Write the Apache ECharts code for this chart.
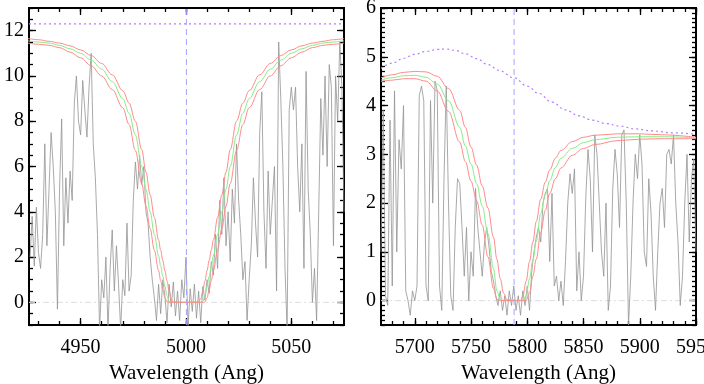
<!DOCTYPE html>
<html><head><meta charset="utf-8">
<script src="https://cdn.jsdelivr.net/npm/echarts@6/dist/echarts.min.js"></script>
<style>html,body{margin:0;padding:0;background:#fff}#c{width:704px;height:384px}</style>
</head><body><div id="c"></div>
<script>
// ---------- Left panel data ----------
const leftWave = [4926,4927,4928,4929,4930,4931,4932,4933,4934,4935,4936,4937,4938,4939,4940,4941,4942,4943,4944,4945,4946,4947,4948,4949,4950,4951,4952,4953,4954,4955,4956,4957,4958,4959,4960,4961,4962,4963,4964,4965,4966,4967,4968,4969,4970,4971,4972,4973,4974,4975,4976,4977,4978,4979,4980,4981,4982,4983,4984,4985,4986,4987,4988,4989,4990,4991,4992,4993,4994,4995,4996,4997,4998,4999,5000,5001,5002,5003,5004,5005,5006,5007,5008,5009,5010,5011,5012,5013,5014,5015,5016,5017,5018,5019,5020,5021,5022,5023,5024,5025,5026,5027,5028,5029,5030,5031,5032,5033,5034,5035,5036,5037,5038,5039,5040,5041,5042,5043,5044,5045,5046,5047,5048,5049,5050,5051,5052,5053,5054,5055,5056,5057,5058,5059,5060,5061,5062,5063,5064,5065,5066,5067,5068,5069,5070,5071,5072,5073,5074,5075];
const leftFlux = [2.0,3.8,1.6,4.2,2.2,1.5,3.0,7.0,2.5,5.0,
  7.5,6.0,4.0,-0.3,5.0,8.1,2.5,5.5,3.5,5.8,
  4.5,8.8,10.0,8.0,7.4,9.8,8.5,7.3,9.5,11.0,
  7.0,5.5,3.0,-1.2,1.0,0.2,2.0,-1.2,1.5,3.2,
  0.5,2.5,0.8,-1.2,1.0,0.3,3.5,0.5,1.2,4.5,
  6.2,5.0,6.5,5.2,6.0,4.0,3.5,2.0,1.0,0.2,
  -0.8,0.8,-0.5,1.0,0.3,-0.9,0.8,-0.2,0.9,-0.6,
  0.5,-0.8,1.0,0.2,2.0,-1.1,0.6,-0.4,0.8,-0.7,
  0.5,-0.9,0.7,0.1,1.0,0.4,1.8,1.2,3.0,1.5,
  4.5,3.0,5.5,2.5,4.0,1.8,5.0,3.5,
  7.0,4.5,3.0,1.0,1.8,-0.8,1.0,2.5,5.5,3.5,
  2.0,7.5,9.3,4.0,1.5,5.8,3.0,4.5,6.0,0.5,
  11.5,9.0,6.0,1.5,-1.2,8.5,9.5,8.5,9.5,6.0,
  4.0,7.0,1.5,10.2,5.0,3.0,0.0,1.5,-0.8,4.0,
  9.0,6.5,10.0,6.0,10.5,9.5,2.5,10.0,8.0,11.5,
  9.5,4.0];
const leftModelWave = [4925,4930,4935,4940,4945,4950,4955,4960,4965,4970,4973,4976,4979,4981,4983,4985,4987,4988,4989,4990,4991,4992,4993,4994,5000,5006,5007,5008,5009,5010,5011,5012,5013,5015,5017,5019,5021,5024,5027,5030,5035,5040,5045,5050,5055,5060,5065,5070,5075];
const leftModelMid = [11.55,11.5,11.45,11.35,11.2,11.0,10.7,10.3,9.75,9.0,8.35,7.4,6.0,5.0,4.0,3.0,2.05,1.6,1.15,0.7,0.3,0.05,0,0,
  0,
  0,0,0.05,0.3,0.7,1.15,1.6,2.05,3.0,4.0,5.0,6.0,7.4,8.35,9.0,9.75,10.3,10.7,11.0,11.2,11.35,11.45,11.5,11.55];
const leftModelHigh = [11.65,11.6,11.53,11.45,11.33,11.15,10.9,10.55,10.05,9.35,8.8,8.0,6.75,5.75,4.75,3.75,2.75,2.3,1.85,1.4,0.95,0.5,0.15,0.02,
  0,
  0.02,0.15,0.5,0.95,1.4,1.85,2.3,2.75,3.75,4.75,5.75,6.75,8.0,8.8,9.35,10.05,10.55,10.9,11.15,11.33,11.45,11.53,11.6,11.65];
const leftModelLow = [11.45,11.4,11.35,11.25,11.05,10.8,10.45,10.0,9.4,8.6,7.85,6.7,5.25,4.25,3.25,2.3,1.4,0.95,0.55,0.2,0.02,0,0,0,
  0,
  0,0,0,0.02,0.2,0.55,0.95,1.4,2.3,3.25,4.25,5.25,6.7,7.85,8.6,9.4,10.0,10.45,10.8,11.05,11.25,11.35,11.4,11.45];
const leftContinuumLevel = 12.3;
const leftLineCenter = 5000.2;
const leftXRange = [4925.5, 5075];
const leftYRange = [-1, 13];
const leftXMajor = [4950, 5000, 5050];
const leftXMinor = [4930,4940,4950,4960,4970,4980,4990,5000,5010,5020,5030,5040,5050,5060,5070];
const leftYMajor = [0, 2, 4, 6, 8, 10, 12];
const leftYMinor = [-1,-0.5,0,0.5,1,1.5,2,2.5,3,3.5,4,4.5,5,5.5,6,6.5,7,7.5,8,8.5,9,9.5,10,10.5,11,11.5,12,12.5,13];

// ---------- Right panel data ----------
const rightWave = [5670,5672,5674,5676,5678,5680,5682,5684,5686,5688,5690,5692,5694,5696,5698,5700,5702,5704,5706,5708,5710,5712,5714,5716,5718,5720,5722,5724,5726,5728,5730,5732,5734,5736,5738,5740,5742,5744,5746,5748,5750,5752,5754,5756,5758,5760,5762,5764,5766,5768,5770,5772,5774,5776,5778,5780,5782,5784,5786,5788,5790,5792,5794,5796,5798,5800,5802,5804,5806,5808,5810,5812,5814,5816,5818,5820,5822,5824,5826,5828,5830,5832,5834,5836,5838,5840,5842,5844,5846,5848,5850,5852,5854,5856,5858,5860,5862,5864,5866,5868,5870,5872,5874,5876,5878,5880,5882,5884,5886,5888,5890,5892,5894,5896,5898,5900,5902,5904,5906,5908,5910,5912,5914,5916,5918,5920,5922,5924,5926,5928,5930,5932,5934,5936,5938,5940,5942,5944,5946,5948,5950];
const rightFlux = [1.0,3.9,0.1,-0.1,3.7,0.3,4.3,1.0,3.3,2.7,
  4.0,0.2,0.0,-0.3,0.2,0.0,0.3,4.2,4.4,4.1,
  0.3,0.0,4.1,2.0,4.5,4.3,0.3,-0.2,2.5,4.4,
  2.0,0.1,-0.2,1.5,2.5,2.4,1.5,0.5,1.5,0.0,
  1.0,0.5,2.3,1.5,1.0,0.5,1.2,1.5,1.1,0.6,
  0.4,0.1,-0.1,0.2,-0.2,0.1,-0.3,0.2,-0.1,0.3,
  -0.2,0.1,-0.3,0.2,-0.1,0.3,-0.2,0.6,1.0,1.3,
  1.5,1.2,2.0,2.2,2.3,0.8,2.2,0.3,0.5,0.0,
  0.4,-0.1,0.8,2.0,2.6,2.2,2.7,0.2,1.0,0.0,
  0.5,2.1,3.1,2.5,1.0,3.4,3.0,2.0,1.0,0.5,
  2.0,-0.2,0.3,2.3,3.1,2.6,1.5,3.4,3.5,2.0,
  -0.5,0.5,2.0,3.0,2.5,3.4,2.8,1.0,0.7,2.5,
  1.8,0.5,-0.2,1.0,2.0,2.3,1.5,3.0,3.1,2.8,
  3.4,2.0,1.2,-0.1,0.5,2.0,3.0,1.2,2.5,2.9,
  1.0];
const rightModelWave = [5670,5680,5690,5700,5710,5720,5730,5740,5745,5750,5755,5760,5765,5770,5773,5776,5779,5782,5790,5794,5796,5799,5802,5805,5808,5812,5816,5820,5825,5830,5840,5850,5860,5880,5900,5920,5950];
const rightModelMid = [4.52,4.57,4.61,4.62,4.58,4.44,4.1,3.55,3.17,2.8,2.4,1.94,1.38,0.65,0.2,0.03,0,0,0,0,0,0.1,0.45,0.83,1.22,1.79,2.17,2.46,2.73,2.92,3.12,3.24,3.3,3.35,3.36,3.36,3.34];
const rightModelHigh = [4.57,4.63,4.68,4.70,4.69,4.6,4.35,3.9,3.55,3.15,2.78,2.35,1.9,1.3,0.85,0.45,0.15,0.02,0,0,0.08,0.4,0.8,1.2,1.62,2.08,2.43,2.68,2.92,3.08,3.26,3.35,3.39,3.42,3.42,3.4,3.35];
const rightModelLow = [4.49,4.52,4.55,4.55,4.5,4.3,3.88,3.25,2.85,2.45,2.05,1.55,0.9,0.25,0.03,0,0,0,0,0,0,0,0.15,0.5,0.85,1.4,1.85,2.2,2.5,2.72,2.98,3.12,3.2,3.28,3.31,3.32,3.32];
const rightContWave = [5670,5680,5690,5700,5710,5720,5728,5736,5745,5755,5765,5775,5788,5800,5810,5822,5834,5846,5858,5870,5882,5896,5911,5930,5950];
const rightContFlux = [4.76,4.87,4.97,5.05,5.11,5.15,5.16,5.13,5.06,4.96,4.84,4.72,4.57,4.40,4.25,4.07,3.91,3.79,3.70,3.63,3.58,3.52,3.48,3.44,3.41];
const rightLineCenter = 5788.3;
const rightXRange = [5670, 5950];
const rightYRange = [-0.5, 6];
const rightXMajor = [5700, 5750, 5800, 5850, 5900, 5950];
const rightXMinor = [5680,5690,5700,5710,5720,5730,5740,5750,5760,5770,5780,5790,5800,5810,5820,5830,5840,5850,5860,5870,5880,5890,5900,5910,5920,5930,5940,5950];
const rightYMajor = [0, 1, 2, 3, 4, 5, 6];
const rightYMinor = [];
for (let i = -5; i <= 60; i++) rightYMinor.push(i / 10);

const xTitle = 'Wavelength (Ang)';
const FONT = 'Liberation Serif';

// ---------- Axis builders ----------
function axisBase(gi, range) {
  return {type:'value', gridIndex:gi, min:range[0], max:range[1], splitLine:{show:false},
    axisLine:{show:true, onZero:false, lineStyle:{color:'#000', width:2}}};
}
function tick(vals, len) {
  return {show:true, inside:true, length:len, customValues:vals, lineStyle:{color:'#000', width:1.3}};
}
function xAxes(gi, range, major, minor) {
  return [
    Object.assign(axisBase(gi, range), {position:'bottom', axisTick:tick(major, 7),
      axisLabel:{show:true, customValues:major, formatter:v=>String(v), margin:13, hideOverlap:false,
        fontFamily:FONT, fontSize:20, color:'#000'},
      name:xTitle, nameLocation:'middle', nameGap:29, nameTextStyle:{fontFamily:FONT, fontSize:21, color:'#000'}}),
    Object.assign(axisBase(gi, range), {position:'bottom', axisTick:tick(minor, 4), axisLabel:{show:false}}),
    Object.assign(axisBase(gi, range), {position:'top', axisTick:tick(major, 7), axisLabel:{show:false}}),
    Object.assign(axisBase(gi, range), {position:'top', axisTick:tick(minor, 4), axisLabel:{show:false}})
  ];
}
function yAxes(gi, range, major, minor) {
  return [
    Object.assign(axisBase(gi, range), {position:'left', axisTick:tick(major, 7),
      axisLabel:{show:true, customValues:major, formatter:v=>String(v), margin:5, fontFamily:FONT, fontSize:20, color:'#000'}}),
    Object.assign(axisBase(gi, range), {position:'left', axisTick:tick(minor, 4), axisLabel:{show:false}}),
    Object.assign(axisBase(gi, range), {position:'right', axisTick:tick(major, 7), axisLabel:{show:false}}),
    Object.assign(axisBase(gi, range), {position:'right', axisTick:tick(minor, 4), axisLabel:{show:false}})
  ];
}
function pairs(xs, ys) { return xs.map((x, i) => [x, ys[i]]); }
function lineSeries(p, data, color, width, type, smooth, z) {
  return {type:'line', xAxisIndex:p*4, yAxisIndex:p*4, data:data, symbol:'none', smooth:smooth || false,
    smoothMonotone: smooth ? 'x' : undefined, clip:true, silent:true, z:z || 2,
    lineStyle:{color:color, width:width, type:type || 'solid'}};
}

const RED = '#ff8a8a', GREEN = '#86ee86', SPEC = '#939393', PURPLE = '#b77cff', VBLUE = '#a4a4ff', ZERO = '#dddddd';

const series = [
  lineSeries(0, [[leftXRange[0],0],[leftXRange[1],0]], ZERO, 1, [6,3,2,3], false, 1),
  lineSeries(0, pairs(leftWave, leftFlux), SPEC, 0.8, 'solid', false, 2),
  lineSeries(0, pairs(leftModelWave, leftModelHigh), RED, 1, 'solid', 0.35, 3),
  lineSeries(0, pairs(leftModelWave, leftModelMid), GREEN, 1, 'solid', 0.35, 3),
  lineSeries(0, pairs(leftModelWave, leftModelLow), RED, 1, 'solid', 0.35, 3),
  lineSeries(0, [[leftLineCenter, leftYRange[0]],[leftLineCenter, leftYRange[1]]], VBLUE, 1, [6,4], false, 4),
  lineSeries(0, [[leftXRange[0], leftContinuumLevel],[leftXRange[1], leftContinuumLevel]], PURPLE, 1.2, [2,3], false, 4),
  lineSeries(1, [[rightXRange[0],0],[rightXRange[1],0]], ZERO, 1, [6,3,2,3], false, 1),
  lineSeries(1, pairs(rightWave, rightFlux), SPEC, 0.8, 'solid', false, 2),
  lineSeries(1, pairs(rightModelWave, rightModelHigh), RED, 1, 'solid', 0.35, 3),
  lineSeries(1, pairs(rightModelWave, rightModelMid), GREEN, 1, 'solid', 0.35, 3),
  lineSeries(1, pairs(rightModelWave, rightModelLow), RED, 1, 'solid', 0.35, 3),
  lineSeries(1, [[rightLineCenter, rightYRange[0]],[rightLineCenter, rightYRange[1]]], VBLUE, 1, [6,4], false, 4),
  lineSeries(1, pairs(rightContWave, rightContFlux), PURPLE, 1.2, [2,3], 0.4, 4)
];

const chart = echarts.init(document.getElementById('c'), null, {renderer:'canvas'});
chart.setOption({
  animation:false,
  backgroundColor:'#fff',
  grid:[{left:29, top:8, width:315, height:317, outerBoundsMode:'none'},
        {left:381, top:8, width:315, height:317, outerBoundsMode:'none'}],
  xAxis: xAxes(0, leftXRange, leftXMajor, leftXMinor).concat(xAxes(1, rightXRange, rightXMajor, rightXMinor)),
  yAxis: yAxes(0, leftYRange, leftYMajor, leftYMinor).concat(yAxes(1, rightYRange, rightYMajor, rightYMinor)),
  series: series
});
</script></body></html>
